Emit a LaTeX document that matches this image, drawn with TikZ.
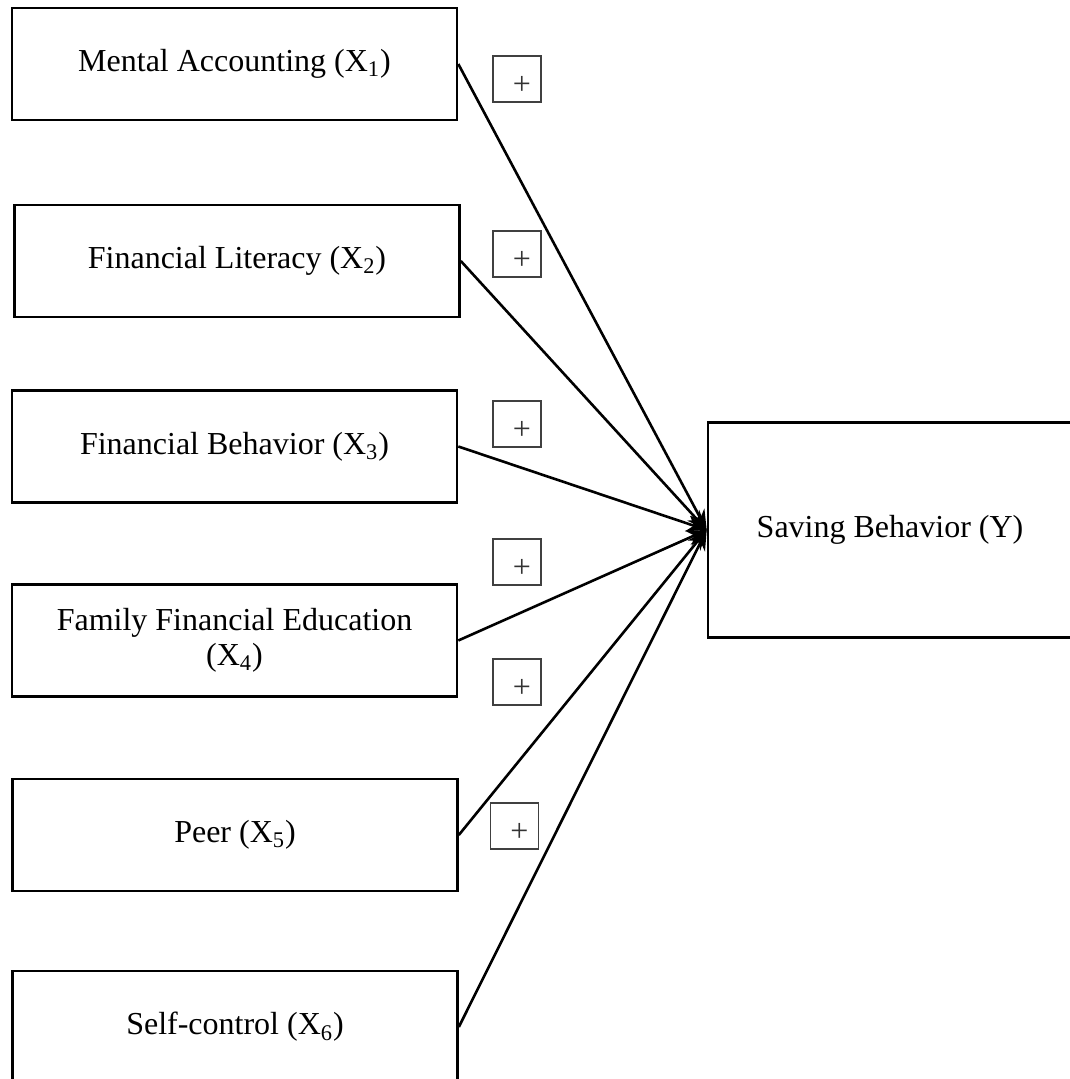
\documentclass[tikz,border=0pt]{standalone}
\usepackage{fontspec}
\setmainfont{Liberation Serif}
\usetikzlibrary{arrows.meta}

\begin{document}
\begin{tikzpicture}[x=0.5pt, y=-0.5pt, >={Stealth[length=10pt,width=8pt]},
          var/.style={rectangle, draw, line width=1.3pt, minimum width=222.5pt,
            minimum height=56pt, align=center, font=\fontsize{16}{17.5}\selectfont},
          dep/.style={var, minimum width=182pt, minimum height=107.5pt},
          sign/.style={rectangle, draw=black!75, line width=0.7pt, minimum width=24pt,
            minimum height=23pt, inner sep=0pt,
            label={[xshift=2.5pt, yshift=-3pt, text=black!80,
              font=\fontsize{16}{17.5}\selectfont]center:+}}]

          \useasboundingbox (0,0) rectangle (1069,1079);

          \node[var] (x1) at (234.5,64) {Mental Accounting (X\textsubscript{1})};
          \node[var] (x2) at (237,261) {Financial Literacy (X\textsubscript{2})};
          \node[var] (x3) at (234.5,446.5) {Financial Behavior (X\textsubscript{3})};
          \node[var] (x4) at (234.5,640.5) {Family Financial Education\\(X\textsubscript{4})};
          \node[var] (x5) at (235,835) {Peer (X\textsubscript{5})};
          \node[var] (x6) at (235,1027) {Self-control (X\textsubscript{6})};
          \node[dep] (y) at (890,530) {Saving Behavior (Y)};

          \node[sign] (p1) at (517,79) {};
          \node[sign] (p2) at (517,254) {};
          \node[sign] (p3) at (517,424) {};
          \node[sign] (p4) at (517,562) {};
          \node[sign] (p5) at (517,682) {};
          \node[sign] (p6) at (514.5,826) {};

          \foreach \v in {x1,x2,x3,x4,x5,x6}
            \draw[->, line width=1.3pt] (\v.east) -- (y.west);
        \end{tikzpicture}
\end{document}
